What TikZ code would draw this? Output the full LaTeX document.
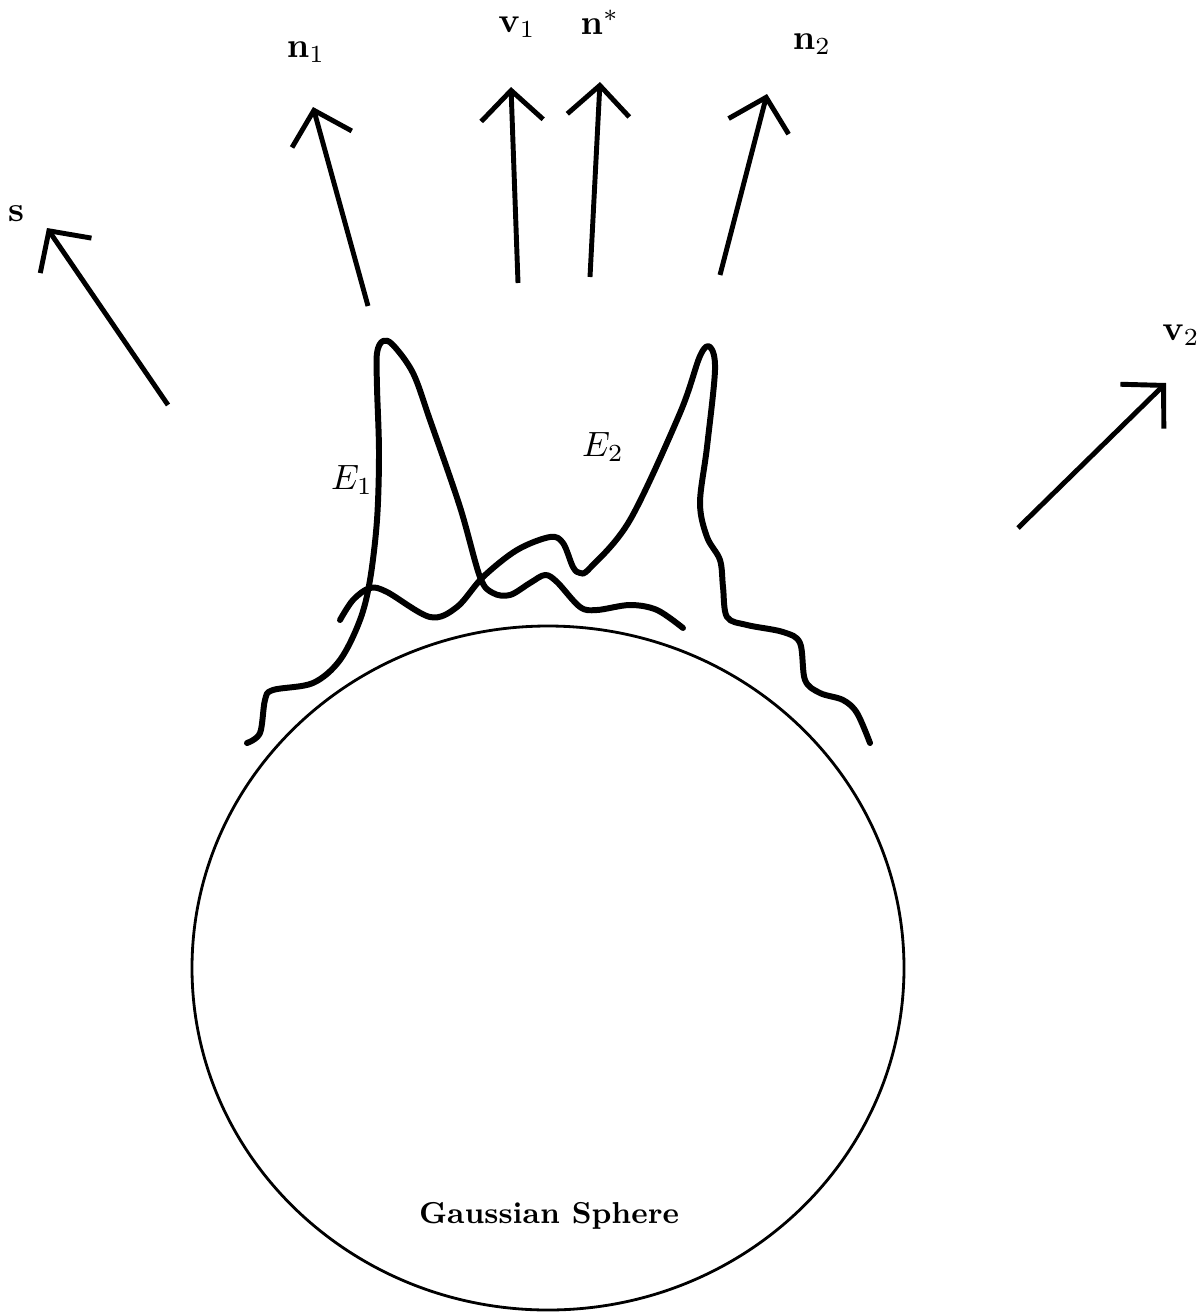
\documentclass[tikz,border=0pt]{standalone}
\usepackage{amsmath,amssymb}
\usetikzlibrary{arrows.meta}

\begin{document}
\begin{tikzpicture}[x=0.1mm, y=-0.1mm,
  vec/.style={line width=1.4pt, -{Straight Barb[length=3mm, width=6.2mm, line width=1.4pt]}},
  curve/.style={line width=1.7pt, line cap=round, line join=round},
  lab/.style={inner sep=1pt}]
\useasboundingbox (0,0) rectangle (1201,1315);
% Gaussian sphere
\draw[line width=0.8pt] (548,968) ellipse[x radius=356, y radius=342];
\node[lab, font=\fontsize{8.6}{10}\selectfont\bfseries] (gs) at (549,1216) {Gaussian Sphere};
% vectors
\coordinate (s0) at (168,405);   \coordinate (s1) at (47,228);
\coordinate (n10) at (368,306);  \coordinate (n11) at (313,107);
\coordinate (v10) at (518,283);  \coordinate (v11) at (511,87);
\coordinate (ns0) at (590,277);  \coordinate (ns1) at (600,82);
\coordinate (n20) at (720,275);  \coordinate (n21) at (767,94);
\coordinate (v20) at (1018,528); \coordinate (v21) at (1166,383);
\draw[vec] (s0) -- (s1);
\draw[vec] (n10) -- (n11);
\draw[vec] (v10) -- (v11);
\draw[vec] (ns0) -- (ns1);
\draw[vec] (n20) -- (n21);
\draw[vec] (v20) -- (v21);
\node[lab] (sl) at (16,214) {$\mathbf{s}$};
\node[lab] (n1l) at (306,52) {$\mathbf{n}_1$};
\node[lab] (v1l) at (517,27) {$\mathbf{v}_1$};
\node[lab] (nsl) at (600,22) {$\mathbf{n}^*$};
\node[lab] (n2l) at (812,44) {$\mathbf{n}_2$};
\node[lab] (v2l) at (1181,335) {$\mathbf{v}_2$};
% distributions
\draw[curve] plot[smooth, tension=0.55] coordinates {(247,743) (260,733) (265,700) (273,690)
  (313,683) (340,660) (360,620) (370,580) (377,520) (379,453) (377,387) (377,353)
  (383,341) (393,345) (413,373) (430,420) (460,507) (480,577) (493,593) (510,595)
  (530,583) (545,575) (557,582) (580,607) (597,610) (630,605) (657,610) (683,628)};
\draw[curve] plot[smooth, tension=0.55] coordinates {(340,620) (353,600) (370,588) (387,592)
  (430,617) (457,607) (483,577) (517,550) (550,537) (563,543) (573,567) (580,573)
  (590,568) (630,520) (680,413) (700,356) (710,347) (715,370) (707,447) (700,503)
  (707,537) (720,560) (723,587) (727,617) (747,625) (783,632) (800,643) (805,680)
  (820,693) (843,700) (857,713) (870,743)};
\node[lab] (e1) at (352,480) {$E_1$};
\node[lab] (e2) at (603,447) {$E_2$};
\end{tikzpicture}
\end{document}
